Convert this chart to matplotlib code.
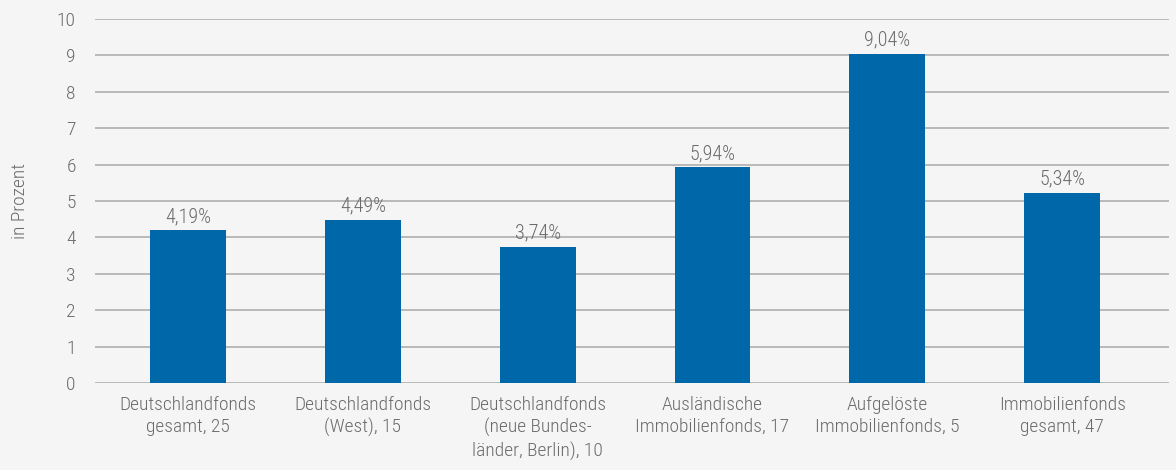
import matplotlib.pyplot as plt
import numpy as np

categories = [
    "Deutschlandfonds\ngesamt, 25",
    "Deutschlandfonds\n(West), 15",
    "Deutschlandfonds\n(neue Bundes-\nländer, Berlin), 10",
    "Ausländische\nImmobilienfonds, 17",
    "Aufgelöste\nImmobilienfonds, 5",
    "Immobilienfonds\ngesamt, 47",
]
# bar heights as drawn in the picture
bar_values = [4.19, 4.49, 3.74, 5.92, 9.04, 5.22]
value_labels = ["4,19%", "4,49%", "3,74%", "5,94%", "9,04%", "5,34%"]
y_ticks = list(range(0, 11))

BG = "#f5f5f5"
BAR = "#0068a8"
TEXT = "#6b6b6b"
GRID = "#b4b4b4"

plt.rcParams['font.family'] = ['Roboto Condensed', 'Liberation Sans Narrow', 'Roboto', 'DejaVu Sans']
plt.rcParams['font.weight'] = 'light'

fig = plt.figure(figsize=(11.76, 4.70), dpi=100, facecolor=BG)
ax = fig.add_axes([0.081, 0.185, 0.913, 0.775], facecolor=BG)

x = np.arange(len(categories))
ax.bar(x, bar_values, width=0.434, color=BAR, zorder=3)

for xi, v, lab in zip(x, bar_values, value_labels):
    ax.text(xi, v + 0.12, lab, ha='center', va='bottom', fontsize=14.5, color=TEXT)

ax.set_xlim(-0.53, 5.61)
ax.set_ylim(0, 10)
ax.set_yticks(y_ticks)
ax.set_xticks(x)
ax.set_xticklabels(categories, fontsize=14, color=TEXT, linespacing=1.3)
ax.tick_params(axis='y', labelsize=14, labelcolor=TEXT, length=0, pad=14)
ax.tick_params(axis='x', length=0, pad=9)
ax.grid(axis='y', color=GRID, linewidth=1.3, zorder=0)
for s in ax.spines.values():
    s.set_visible(False)
ax.set_ylabel("in Prozent", fontsize=14, color=TEXT, labelpad=20, fontweight='light')

fig.savefig("out.png", dpi=100, facecolor=BG)
